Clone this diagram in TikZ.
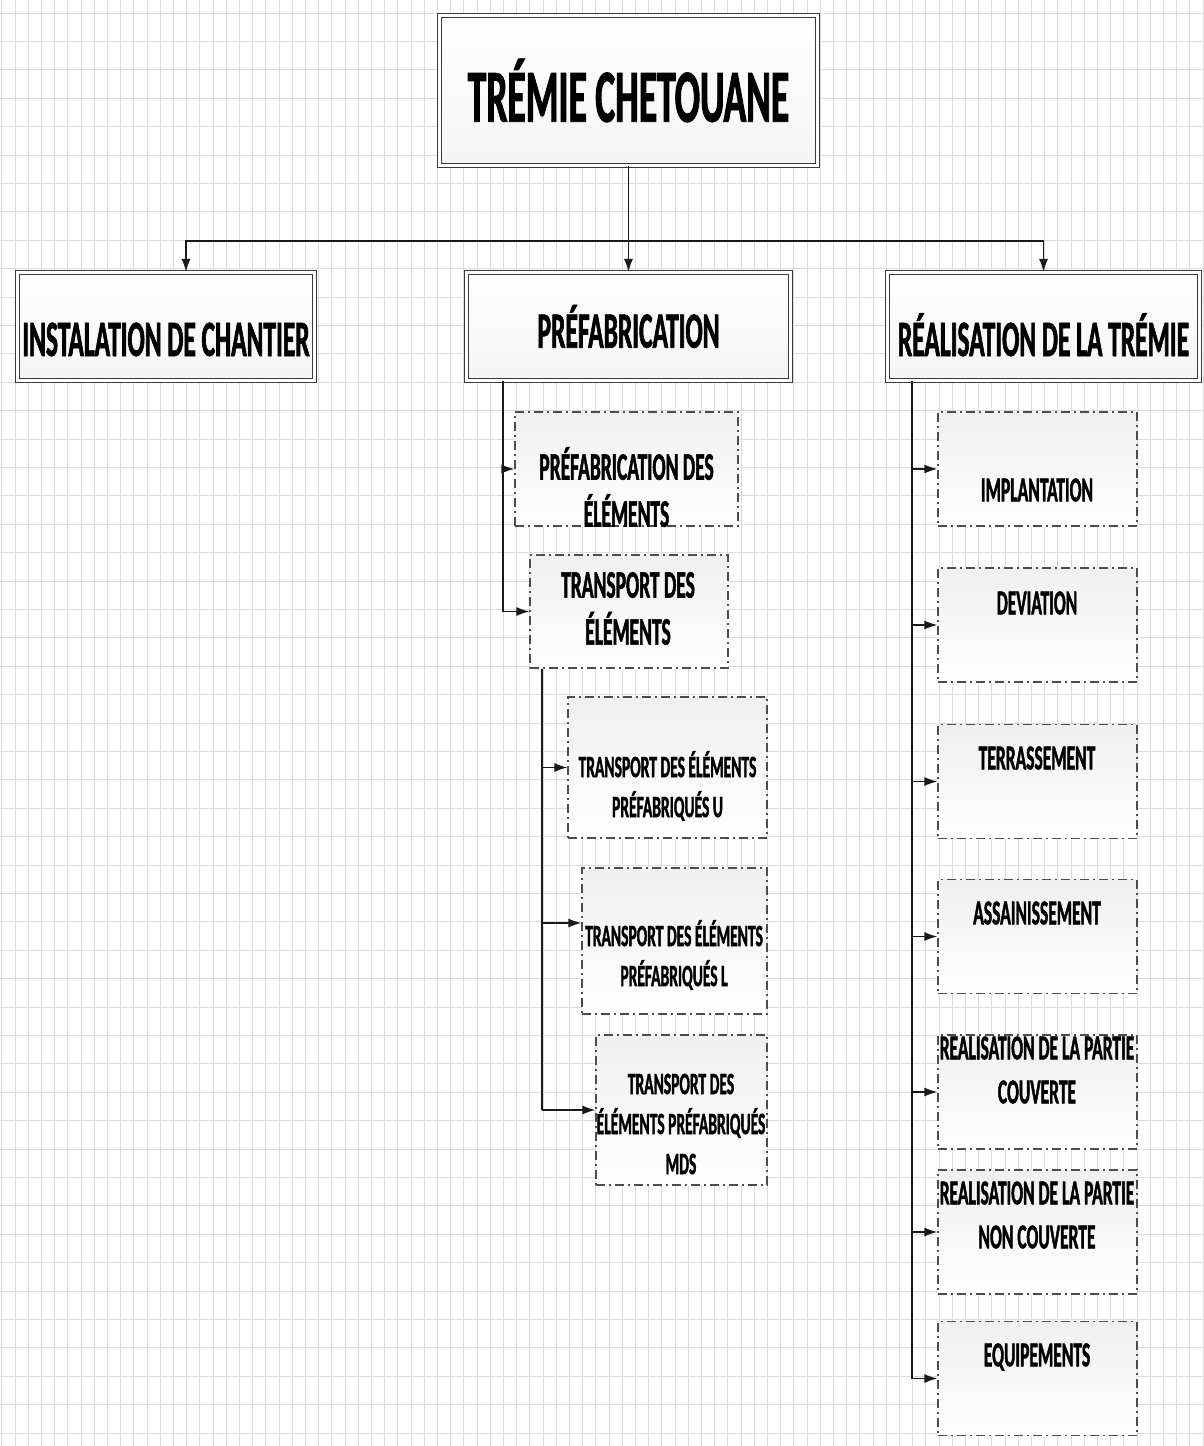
\documentclass[tikz,border=0pt]{standalone}
\usepackage{fontspec}
\newfontfamily\narrowfont[FakeStretch=0.5, FakeBold=1.2]{Carlito}
\usetikzlibrary{arrows.meta, positioning, calc}

\tikzset{
  gridline/.style={gray!28, line width=0.7pt},
  mainbox/.style={draw=gray!45!black, double=white, double distance=2.5pt, line width=1.2pt,
                  top color=white, bottom color=gray!8, inner sep=0pt},
  subbox/.style={draw=gray!60!black, line width=1.3pt, dash pattern=on 9pt off 4pt on 2pt off 4pt,
                 top color=gray!12, bottom color=white, inner sep=0pt},
  link/.style={gray!20!black, line width=1.3pt},
  arrow/.style={link, -{Latex[length=13pt, width=9pt]}},
  txt/.style={inner sep=0pt, align=center, font=\narrowfont\bfseries},
  big/.style={txt, font=\narrowfont\bfseries\fontsize{75}{80}\selectfont},
  lvltwo/.style={txt, font=\narrowfont\bfseries\fontsize{51}{56}\selectfont},
  lvlthree/.style={txt, font=\narrowfont\bfseries\fontsize{39}{47}\selectfont},
  lvlfour/.style={txt, font=\narrowfont\bfseries\fontsize{31}{40}\selectfont},
  lvlright/.style={txt, font=\narrowfont\bfseries\fontsize{35}{44}\selectfont},
}

\begin{document}
\begin{tikzpicture}[x=1pt, y=-1pt]
  \useasboundingbox (0,0) rectangle (1203,1446);
  \fill[white] (0,0) rectangle (1203,1446);

  % fond quadrille
  \foreach \gx in {1.8,15,...,1203} \draw[gridline] (\gx,0) -- (\gx,1446);
  \foreach \gy in {13,41.4,...,1446} \draw[gridline] (0,\gy) -- (1203,\gy);

  % titre
  \node[mainbox, big, minimum width=378pt, minimum height=150pt] (title) at (628.5,90.5) {TRÉMIE CHETOUANE};

  % niveau 2
  \node[mainbox, lvltwo, minimum width=297pt, minimum height=108pt, text height=59pt, text depth=0pt] (inst) at (166,326.5) {INSTALATION DE CHANTIER};
  \node[mainbox, lvltwo, minimum width=324pt, minimum height=108pt] (prefa) at (628.5,326.5) {PRÉFABRICATION};
  \node[mainbox, lvltwo, minimum width=312pt, minimum height=108pt, text height=59pt, text depth=0pt] (realis) at (1043.5,326.5) {RÉALISATION DE LA TRÉMIE};

  \coordinate (bus) at (628.5,241);
  \draw[link] (title.south) -- (bus);
  \draw[arrow] (bus) -| ([xshift=20pt]inst.north);
  \draw[arrow] (bus) -- (prefa.north);
  \draw[arrow] (bus) -| (realis.north);

  % prefabrication
  \node[subbox, minimum width=223pt, minimum height=114pt] (pel) at (626.5,469) {};
  \node[subbox, minimum width=198pt, minimum height=113pt] (tel) at (629,611.5) {};
  \node[lvlthree] (pel-t) at (626.5,487) {PRÉFABRICATION DES\\ÉLÉMENTS};
  \node[lvlthree] (tel-t) at (628,608.5) {TRANSPORT DES\\ÉLÉMENTS};

  \coordinate (pt) at (503,0);
  \draw[link] (prefa.south -| pt) -- (pt |- tel.west);
  \draw[arrow] (pt |- pel.west) -- (pel.west);
  \draw[arrow] (pt |- tel.west) -- (tel.west);

  % transport
  \node[subbox, minimum width=199pt, minimum height=141pt] (tu) at (667.5,767.5) {};
  \node[subbox, minimum width=185pt, minimum height=146pt] (tl) at (674.5,941) {};
  \node[subbox, minimum width=171pt, minimum height=150pt] (tm) at (681.5,1110) {};
  \node[lvlfour] (tu-t) at (667.5,786) {TRANSPORT DES ÉLÉMENTS\\PRÉFABRIQUÉS U};
  \node[lvlfour] (tl-t) at (674,955) {TRANSPORT DES ÉLÉMENTS\\PRÉFABRIQUÉS L};
  \node[lvlfour] (tm-t) at (681,1124) {TRANSPORT DES\\ÉLÉMENTS PRÉFABRIQUÉS\\MDS};

  \coordinate (tt) at (542,0);
  \draw[link] (tel.south -| tt) -- (tt |- tm.west);
  \draw[arrow] (tt |- tu.west) -- (tu.west);
  \draw[arrow] ([yshift=18pt]tl.west -| tt) -- ([yshift=18pt]tl.west);
  \draw[arrow] (tt |- tm.west) -- (tm.west);

  % realisation de la tremie
  \node[subbox, minimum width=199pt, minimum height=114pt] (imp) at (1037.5,469) {};
  \node[subbox, minimum width=199pt, minimum height=114pt] (dev) at (1037.5,625) {};
  \node[subbox, minimum width=199pt, minimum height=114pt] (ter) at (1037.5,781.5) {};
  \node[subbox, minimum width=199pt, minimum height=114pt] (ass) at (1037.5,936.5) {};
  \node[subbox, minimum width=199pt, minimum height=114pt] (pc) at (1037.5,1092) {};
  \node[subbox, minimum width=199pt, minimum height=124pt] (pnc) at (1037.5,1232) {};
  \node[subbox, minimum width=199pt, minimum height=114pt] (equ) at (1037.5,1378.5) {};
  \node[lvlright] (imp-t) at (1037,490) {IMPLANTATION};
  \node[lvlright] (dev-t) at (1037,603) {DEVIATION};
  \node[lvlright] (ter-t) at (1037,758) {TERRASSEMENT};
  \node[lvlright] (ass-t) at (1037,913) {ASSAINISSEMENT};
  \node[lvlright] (pc-t) at (1037,1070) {REALISATION DE LA PARTIE\\COUVERTE};
  \node[lvlright] (pnc-t) at (1037,1215) {REALISATION DE LA PARTIE\\NON COUVERTE};
  \node[lvlright] (equ-t) at (1037,1357) {EQUIPEMENTS};

  \coordinate (rt) at (912,0);
  \draw[link] (realis.south -| rt) -- (rt |- equ.west);
  \foreach \b in {imp,dev,ter,ass,pc,pnc,equ}
    \draw[arrow] (rt |- \b.west) -- (\b.west);
\end{tikzpicture}
\end{document}
